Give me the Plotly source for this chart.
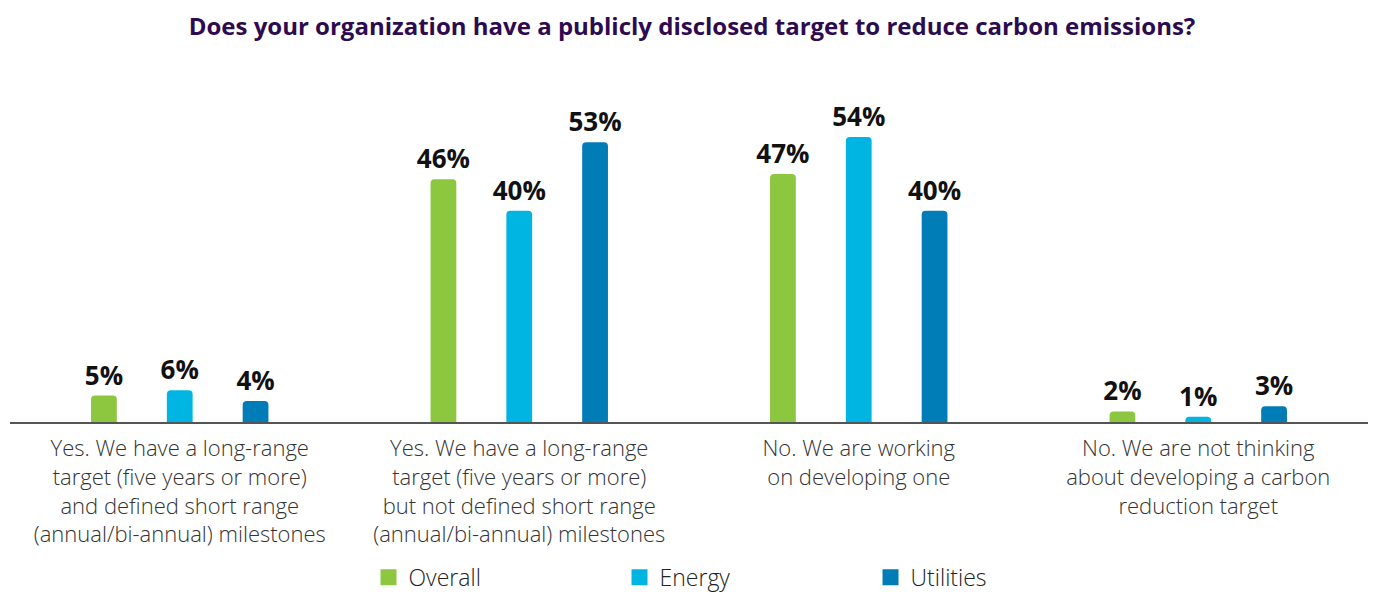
import plotly.graph_objects as go

categories = [
    "Yes. We have a long-range<br>target (five years or more)<br>and defined short range<br>(annual/bi-annual) milestones",
    "Yes. We have a long-range<br>target (five years or more)<br>but not defined short range<br>(annual/bi-annual) milestones",
    "No. We are working<br>on developing one",
    "No. We are not thinking<br>about developing a carbon<br>reduction target",
]
series_names = ["Overall", "Energy", "Utilities"]
overall = [5, 46, 47, 2]
energy = [6, 40, 54, 1]
utilities = [4, 53, 40, 3]
colors = ["#8dc63f", "#00b5e2", "#007cb6"]

fig = go.Figure()
for name, vals, col in zip(series_names, [overall, energy, utilities], colors):
    fig.add_trace(go.Bar(
        x=categories, y=vals, name=name, marker=dict(color=col, line=dict(width=0)),
        text=[f"{v}%" for v in vals], textposition="outside", constraintext="none",
        textfont=dict(family="Open Sans", size=26, color="#111111", weight="bold"),
        cliponaxis=False, showlegend=False,
    ))
    fig.add_trace(go.Scatter(
        x=[None], y=[None], mode="markers", name=name,
        marker=dict(symbol="square", size=20, color=col),
    ))

fig.update_layout(
    width=1368, height=586,
    paper_bgcolor="white", plot_bgcolor="white",
    margin=dict(l=2, r=8, t=92, b=172, autoexpand=False),
    barmode="group", bargap=0.33, bargroupgap=0.66, barcornerradius=4,
    title=dict(
        text="Does your organization have a publicly disclosed target to reduce carbon emissions?",
        x=0.5, xanchor="center", y=0.9676, yanchor="middle",
        font=dict(family="Open Sans", size=24, color="#2e0a50", weight="bold"),
    ),
    xaxis=dict(
        showline=True, linecolor="#555555", linewidth=2, ticks="",
        tickfont=dict(family="Open Sans", size=22, color="#333333", weight=300),
        showgrid=False, automargin=False, ticklabelstandoff=6,
    ),
    yaxis=dict(range=[0, 61], visible=False, showgrid=False, zeroline=False),
    legend=dict(
        orientation="h", x=0.264, xanchor="left", y=-0.482, yanchor="middle",
        font=dict(family="Open Sans", size=23, color="#222222", weight=300),
        entrywidth=206, entrywidthmode="pixels", itemsizing="trace",
    ),
)

fig.write_html("out.html")
